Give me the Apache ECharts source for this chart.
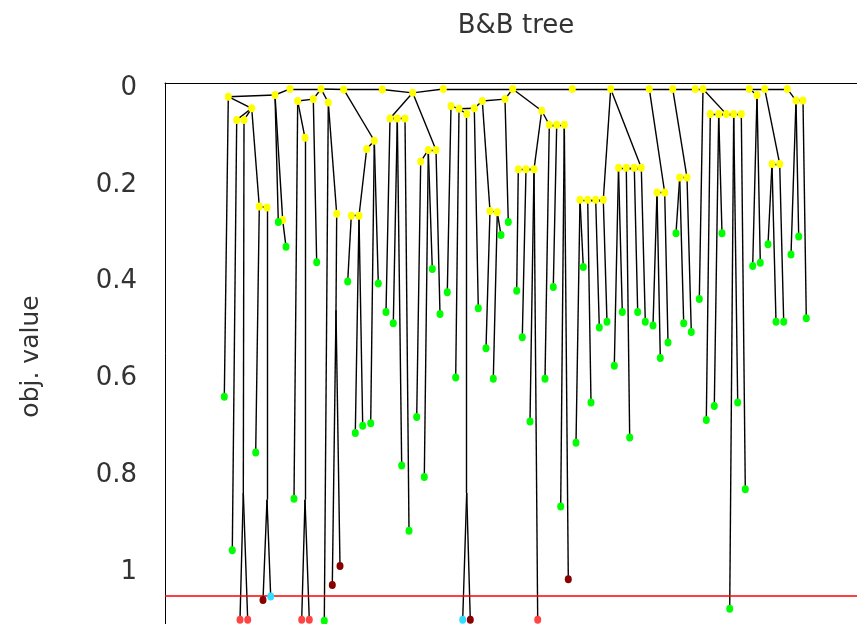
<!DOCTYPE html>
<html><head><meta charset="utf-8">
<script src="https://cdn.jsdelivr.net/npm/echarts@6/dist/echarts.min.js"></script>
<style>html,body{margin:0;padding:0;background:#fff}#c{width:857px;height:624px}</style>
</head><body><div id="c"></div>
<script>
// ---- data: [id, parentId, horizontal position, obj. value] ----
const branchNodes = [
  ['T1', null, 125.0, 0.002], ['T2','T1',156.0,0.002], ['T3','T2',178.7,0.003], ['T4','T3',217.3,0.003],
  ['T5','T4',247.7,0.010], ['T6','T5',278.3,0.002], ['T7','T6',347.7,0.002], ['T8','T7',407.3,0.002],
  ['T9','T8',445.7,0.002], ['T10','T9',484.3,0.002], ['T11','T10',507.7,0.002], ['T12','T11',530.3,0.002],
  ['T13','T12',538.0,0.002], ['T14','T13',584.3,0.002], ['T15','T14',599.7,0.002], ['T16','T15',622.3,0.002],
  ['a5','T1',110.0,0.0145], ['a1','a5',63.3,0.018], ['a2','a1',86.7,0.042], ['a3','a2',71.7,0.066],
  ['a4','a2',79.0,0.066], ['a18','a2',94.3,0.245], ['a19','a18',102.0,0.247], ['a20','a5',117.7,0.273],
  ['b8','T2',148.3,0.023], ['b7','b8',132.7,0.027], ['b10','T2',163.3,0.030], ['b11','b7',140.0,0.103],
  ['b21','b10',171.7,0.260],
  ['c13','T3',209.3,0.109], ['c14','c13',201.7,0.126], ['c23','c14',194.0,0.264], ['c22','c23',186.3,0.264],
  ['d1','T5',225.0,0.063], ['d2','d1',232.3,0.063], ['d3','d1',240.0,0.063],
  ['d4','T5',271.0,0.128], ['d5','d4',263.3,0.128], ['d6','d5',255.7,0.152],
  ['e1','T7',340.0,0.023], ['e2','e1',317.3,0.027], ['e3','e2',309.3,0.042], ['e4','e3',294.0,0.043],
  ['e5','e4',286.0,0.037], ['e6','e4',301.7,0.054], ['e7','e2',325.0,0.254], ['e8','e7',332.3,0.257],
  ['e9','T7',376.7,0.047], ['e10','e9',384.3,0.076], ['e11','e10',391.7,0.076], ['e12','e10',399.3,0.076],
  ['e13','e9',369.0,0.168], ['e14','e13',361.0,0.168], ['e15','e13',353.3,0.168],
  ['f1','T9',438.3,0.231], ['f2','f1',430.7,0.231], ['f3','f1',422.7,0.231], ['f4','f1',415.0,0.231],
  ['f5','T9',476.3,0.165], ['f6','f5',469.3,0.165], ['f7','f5',461.3,0.165], ['f8','f5',453.5,0.165],
  ['g1','T10',499.7,0.216], ['g2','g1',492.0,0.216],
  ['h1','T11',522.0,0.185], ['h2','h1',514.7,0.185],
  ['i3','T13',561.3,0.054], ['i1','i3',545.3,0.054], ['i2','i3',553.7,0.054], ['i4','i3',568.7,0.054], ['i5','i3',576.3,0.054],
  ['k1','T14',592.0,0.0145], ['k2','T15',614.7,0.157], ['k3','k2',607.0,0.157],
  ['m1','T16',631.0,0.026], ['m2','m1',638.0,0.026]
];
const junctionNodes = [
  ['ja4','a4',78.3,0.837], ['ja19','a19',102.0,0.851], ['jb11','b11',140.0,0.851],
  ['jb21','b21',171.0,0.459], ['je6','e6',301.7,0.837]
];
// leaves: [parentId, horizontal position, obj. value]
const feasibleLeaves = [
  ['a1',59.3,0.638], ['a3',67.3,0.955], ['a18',90.7,0.753], ['a5',113.3,0.277], ['a20',121.0,0.328],
  ['b7',129.0,0.849], ['b8',151.7,0.360], ['b10',159.3,1.101],
  ['c22',182.7,0.400], ['c23',190.3,0.713], ['c23',197.7,0.698], ['c13',205.7,0.693], ['c13',213.3,0.404],
  ['d1',221.0,0.463], ['d2',228.3,0.486], ['d2',236.7,0.780], ['d3',244.0,0.915],
  ['d6',251.7,0.680], ['d5',267.3,0.374], ['d5',259.3,0.804], ['d4',275.0,0.467],
  ['e5',282.3,0.422], ['e4',290.7,0.598], ['e3',313.3,0.455], ['e7',321.0,0.538], ['e8',336.0,0.304],
  ['e8',328.3,0.601], ['e1',343.3,0.277], ['e15',351.7,0.419], ['e14',357.3,0.515], ['e13',365.0,0.689],
  ['e10',380.0,0.601], ['e11',388.3,0.411], ['e12',395.7,0.865],
  ['f4',418.3,0.370], ['f4',411.0,0.733], ['f3',426.0,0.650], ['f2',434.3,0.495], ['f1',442.0,0.483],
  ['f8',449.3,0.574], ['f8',457.3,0.463], ['f7',464.7,0.722], ['f6',472.7,0.463], ['f5',480.3,0.483],
  ['g2',488.0,0.491], ['g2',495.3,0.558], ['g1',503.0,0.526],
  ['h2',511.0,0.300], ['h2',518.7,0.486], ['h1',526.3,0.504],
  ['T13',534.3,0.436], ['i1',541.3,0.686], ['i2',549.3,0.657], ['i2',557.0,0.300],
  ['i4',564.7,1.076], ['i4',572.7,0.650], ['i5',580.3,0.829],
  ['k1',587.7,0.368], ['k1',595.3,0.361], ['k3',603.0,0.323], ['k3',611.0,0.483], ['k2',618.7,0.483],
  ['m1',626.0,0.344], ['m1',633.7,0.307], ['m2',641.3,0.476]
];
const infeasibleLeaves = [
  ['ja4',75.0,1.099], ['ja4',82.7,1.099], ['jb11',136.7,1.099], ['jb11',144.3,1.099], ['e13',372.7,1.099]
];
const cutoffLeaves = [
  ['ja19',98.0,1.058], ['jb21',167.3,1.027], ['jb21',175.0,0.988], ['je6',305.3,1.099], ['e12',403.3,1.015]
];
const otherLeaves = [
  ['ja19',105.7,1.051], ['je6',297.7,1.099]
];
const incumbentValue = 1.052;
const yTicks = [0, 0.2, 0.4, 0.6, 0.8, 1];

// ---- build edges from parent references ----
const pos = {};
branchNodes.concat(junctionNodes).forEach(n => { pos[n[0]] = [n[2], n[3]]; });
const edges = [];
branchNodes.concat(junctionNodes).forEach(n => { if (n[1]) edges.push({ coords: [pos[n[1]], [n[2], n[3]]] }); });
[feasibleLeaves, infeasibleLeaves, cutoffLeaves, otherLeaves].forEach(arr =>
  arr.forEach(l => edges.push({ coords: [pos[l[0]], [l[1], l[2]]] })));

const FONT = 'DejaVu Sans';
const pts = arr => arr.map(l => [l[1], l[2]]);
function markers(data, color) {
  return { type: 'scatter', data: data, symbol: 'circle', symbolSize: [7, 8],
    itemStyle: { color: color, opacity: 1 }, z: 5, silent: true };
}

const chart = echarts.init(document.getElementById('c'), null, { renderer: 'canvas' });
chart.setOption({
  animation: false,
  backgroundColor: '#fff',
  title: { text: 'B&B tree', left: 511, top: 8, textAlign: 'center',
    textStyle: { fontFamily: FONT, fontSize: 26, fontWeight: 'normal', color: '#333' } },
  grid: { left: 165, top: 83, width: 720, height: 547, outerBoundsMode: 'none', containLabel: false },
  xAxis: { type: 'value', min: 0, max: 720, position: 'top',
    axisLine: { show: true, onZero: false, lineStyle: { color: '#000', width: 1 } },
    axisTick: { show: false }, axisLabel: { show: false }, splitLine: { show: false } },
  yAxis: { type: 'value', inverse: true, min: -0.0103, max: 1.12,
    axisLine: { show: true, onZero: false, lineStyle: { color: '#000', width: 1 } },
    axisTick: { show: false }, splitLine: { show: false },
    axisLabel: { customValues: yTicks, margin: 28, fontSize: 26, fontFamily: FONT, color: '#333' },
    name: 'obj. value', nameLocation: 'middle', nameGap: 121, nameRotate: 90,
    nameTextStyle: { fontSize: 25, fontFamily: FONT, color: '#333' } },
  series: [
    { type: 'lines', coordinateSystem: 'cartesian2d', data: edges, silent: true, z: 2,
      lineStyle: { color: '#000', width: 1.4, opacity: 1 },
      markLine: { silent: true, symbol: 'none', label: { show: false },
        lineStyle: { color: '#ff0000', width: 1.5, type: 'solid', opacity: 1 },
        data: [{ yAxis: incumbentValue }] } },
    markers(branchNodes.map(n => [n[2], n[3]]), '#ffff00'),
    markers(pts(feasibleLeaves), '#00ff00'),
    markers(pts(infeasibleLeaves), '#ff4444'),
    markers(pts(cutoffLeaves), '#880000'),
    markers(pts(otherLeaves), '#33ddff')
  ]
});
</script></body></html>
